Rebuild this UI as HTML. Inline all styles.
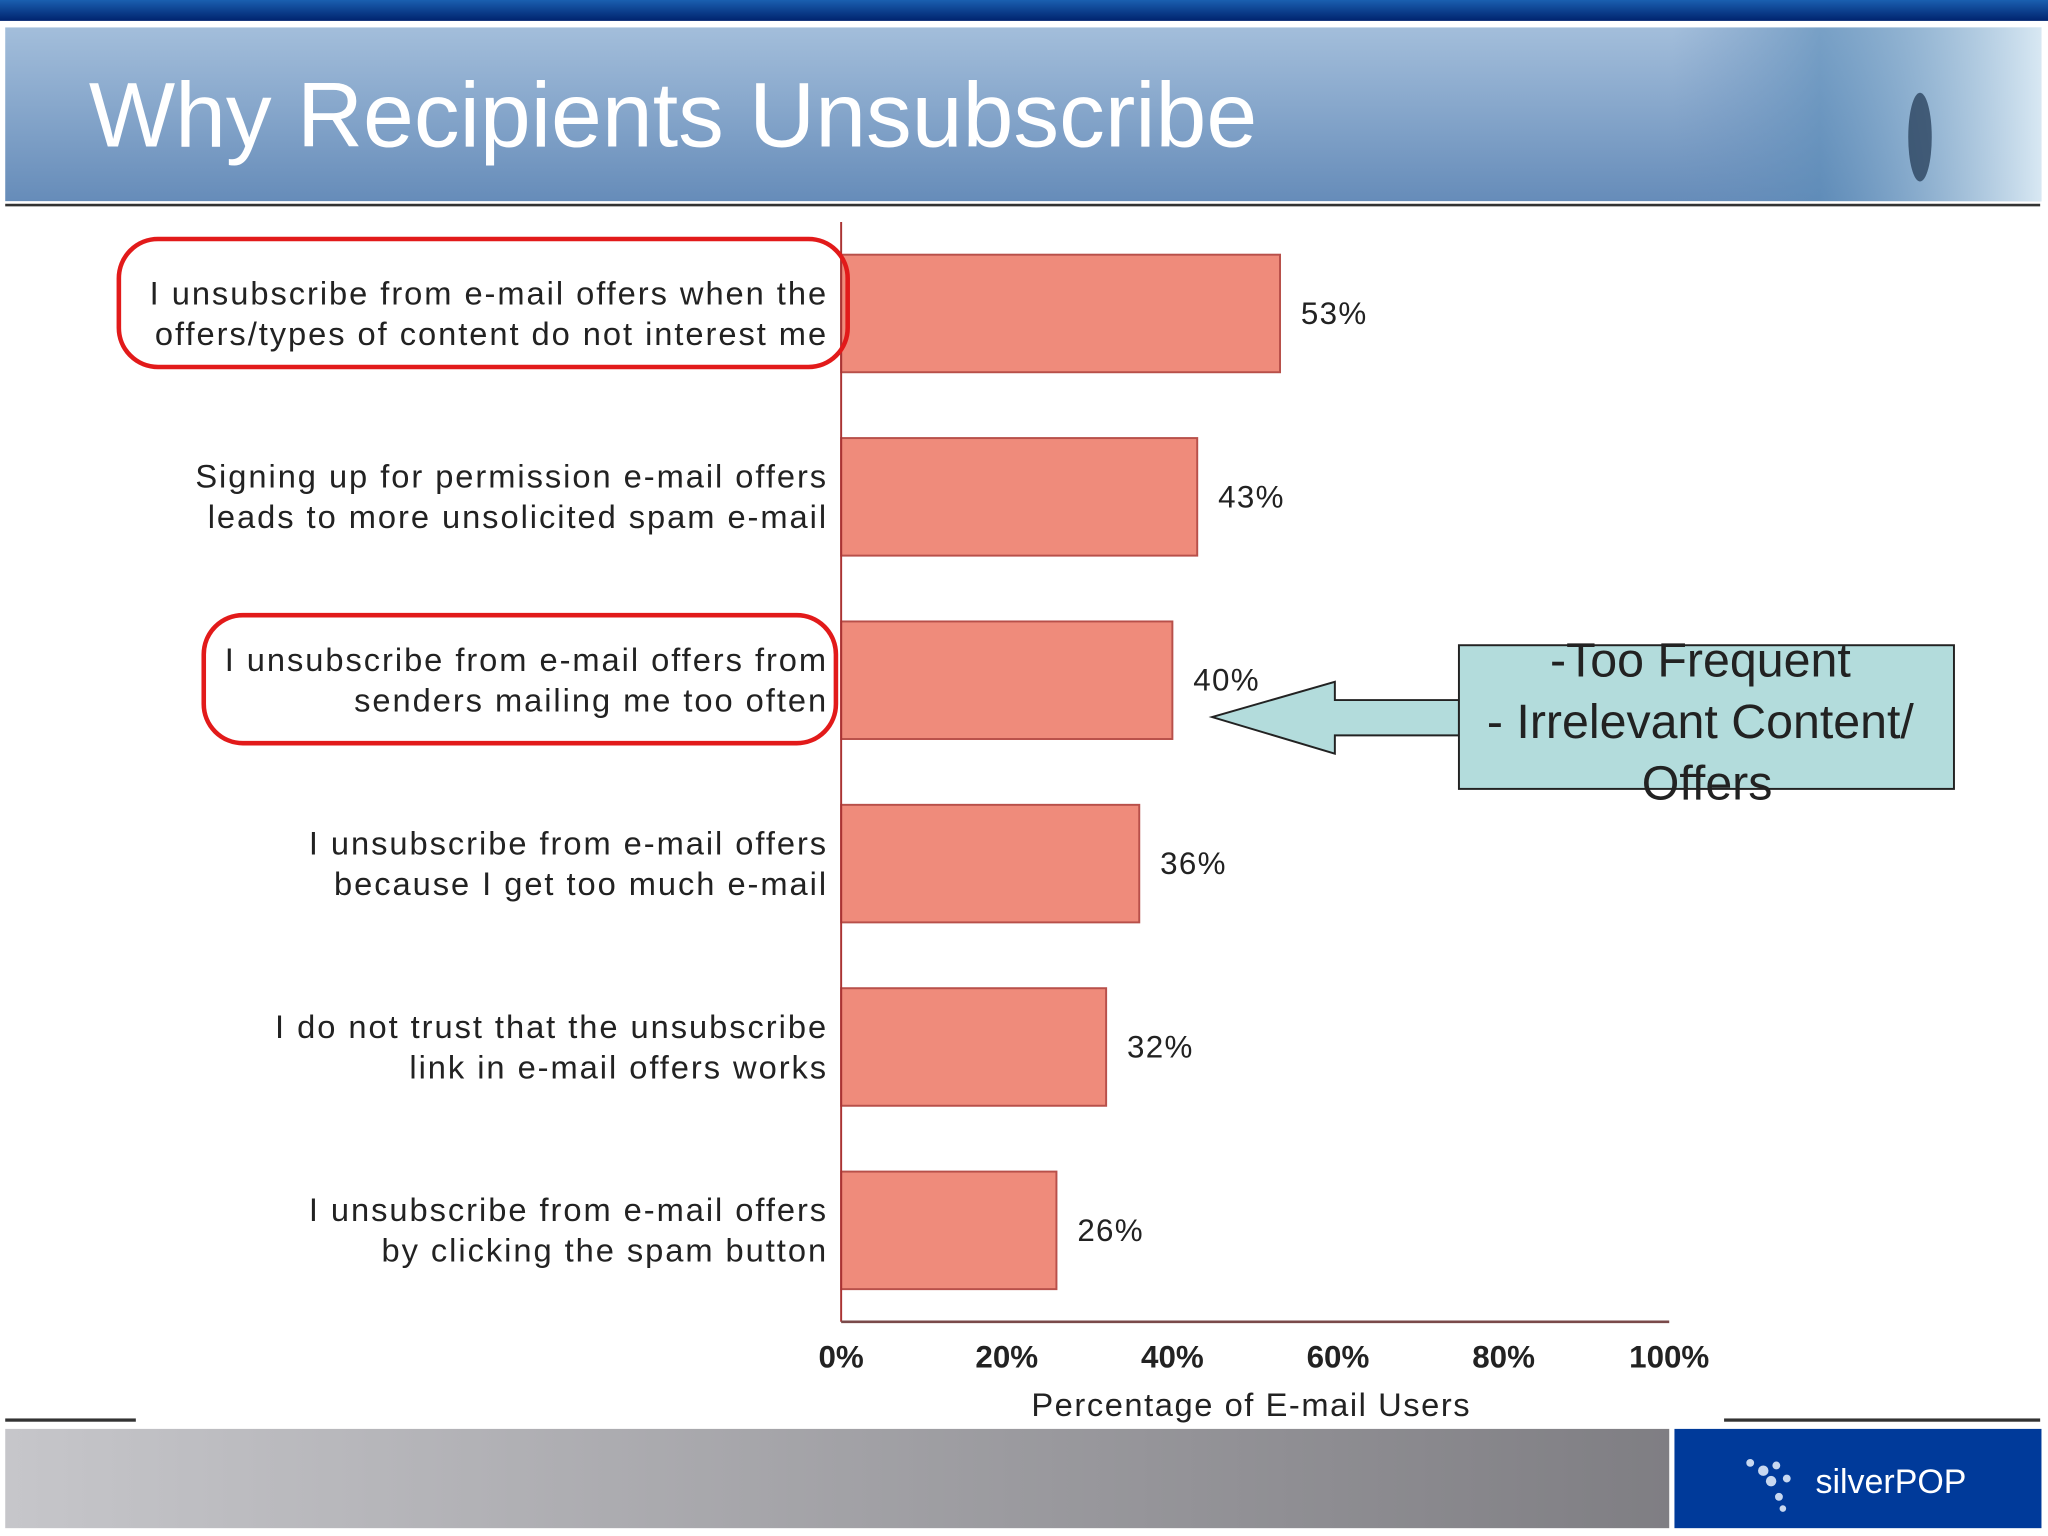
<!DOCTYPE html>
<html><head><meta charset="utf-8"><style>
html,body{margin:0;padding:0;background:#fff;}
svg{display:block;font-family:"Liberation Sans",sans-serif;}
</style></head><body>
<svg id="chart" width="2048" height="1536" viewBox="0 0 1568 1176" xmlns="http://www.w3.org/2000/svg">
<defs>
<linearGradient id="topbar" x1="0" y1="0" x2="0" y2="1"><stop offset="0" stop-color="#1a5fb0"/><stop offset="1" stop-color="#00236e"/></linearGradient>
<linearGradient id="hdr" x1="0" y1="0" x2="0" y2="1"><stop offset="0" stop-color="#a3bedb"/><stop offset="1" stop-color="#668cb9"/></linearGradient>
<linearGradient id="hdrR" x1="0" y1="0" x2="1" y2="0"><stop offset="0" stop-color="#6a90bb" stop-opacity="0"/><stop offset="0.4" stop-color="#5b8cb8" stop-opacity="0.6"/><stop offset="1" stop-color="#d8e8f3"/></linearGradient>
<linearGradient id="foot" x1="0" y1="0" x2="1" y2="0"><stop offset="0" stop-color="#c6c6ca"/><stop offset="1" stop-color="#7f7e83"/></linearGradient>
</defs>
<rect x="0" y="0" width="1568" height="16" fill="url(#topbar)"/>
<rect x="4" y="21" width="1559" height="133" fill="url(#hdr)"/>
<rect x="1280" y="21" width="283" height="133" fill="url(#hdrR)"/>
<ellipse cx="1470" cy="105" rx="9" ry="34" fill="#1e3550" opacity="0.7"/>
<rect x="4" y="156" width="1558" height="2" fill="#333"/>
<text x="68" y="112" font-size="70" fill="#fff">Why Recipients Unsubscribe</text>

<g id="plot"></g>

<rect x="91" y="183" width="558" height="98" rx="30" fill="none" stroke="#e21a1a" stroke-width="3.5"/>
<rect x="156" y="471" width="484" height="98" rx="30" fill="none" stroke="#e21a1a" stroke-width="3.5"/>

<polygon points="928,549 1022,522 1022,536 1117,536 1117,563 1022,563 1022,577" fill="#b3dcdc" stroke="#222" stroke-width="1.5"/>
<rect x="1117" y="494" width="379" height="110" fill="#b3dcdc" stroke="#222" stroke-width="1.5"/>
<text font-size="37" fill="#222" text-anchor="middle">
<tspan x="1307" y="518">-Too Frequent</tspan>
<tspan x="1307" y="565">- Irrelevant Content/</tspan>
<tspan x="1307" y="612">Offers</tspan>
</text>

<rect x="4" y="1086" width="100" height="2.5" fill="#333"/>
<rect x="1320" y="1086" width="242" height="2.5" fill="#333"/>
<rect x="4" y="1094" width="1274" height="76" fill="url(#foot)"/>
<rect x="1282" y="1094" width="281" height="76" fill="#003a9a"/>
<g fill="#c8d8f0">
<circle cx="1340" cy="1120" r="3"/><circle cx="1350" cy="1126" r="4"/><circle cx="1360" cy="1122" r="3"/><circle cx="1356" cy="1134" r="4"/><circle cx="1368" cy="1132" r="3"/><circle cx="1362" cy="1146" r="3"/><circle cx="1365" cy="1155" r="2.5"/>
</g>
<text x="1390" y="1143" font-size="26" fill="#fff">silverPOP</text>

<script>
const categories = [
 ["I unsubscribe from e-mail offers when the","offers/types of content do not interest me"],
 ["Signing up for permission e-mail offers","leads to more unsolicited spam e-mail"],
 ["I unsubscribe from e-mail offers from","senders mailing me too often"],
 ["I unsubscribe from e-mail offers","because I get too much e-mail"],
 ["I do not trust that the unsubscribe","link in e-mail offers works"],
 ["I unsubscribe from e-mail offers","by clicking the spam button"]
];
const values = [53, 43, 40, 36, 32, 26];
const ticks = [0, 20, 40, 60, 80, 100];
const tickLabels = ["0%","20%","40%","60%","80%","100%"];

const NS = "http://www.w3.org/2000/svg";
const g = document.getElementById("plot");
const x0 = 644, x1 = 1278, yTop = 170, yBot = 1012, bandTop = 195, pitch = 140.4, barH = 90;
const xs = v => x0 + (v/100)*(x1-x0);
const yb = i => bandTop + i*pitch;
function mk(tag, attrs){ const e=document.createElementNS(NS,tag); for(const k in attrs) e.setAttribute(k,attrs[k]); g.appendChild(e); return e; }

values.forEach((v,i)=>{
  const r = mk("rect",{x:x0,y:yb(i),width:xs(v)-x0,height:barH,fill:"#ef8b7b",stroke:"#b8504a","stroke-width":1.5});
  
  
  const t = mk("text",{x:xs(v)+16,y:yb(i)+barH/2+8,"font-size":24,fill:"#222","letter-spacing":1});
  t.textContent = v + "%";
  
  
  categories[i].forEach((line,j)=>{
    const c = mk("text",{x:634,y:yb(i)+38+j*31,"font-size":25,fill:"#222","text-anchor":"end","letter-spacing":1.5});
    c.textContent = line;
    
    
  });
});
const ya = mk("line",{x1:x0,y1:yTop,x2:x0,y2:yBot,stroke:"#a33","stroke-width":1.5});


const xa = mk("line",{x1:x0,y1:yBot,x2:x1,y2:yBot,stroke:"#7a4a4a","stroke-width":2});


ticks.forEach((tv,i)=>{
  const t = mk("text",{x:xs(tv),y:1047,"font-size":24,"font-weight":"bold",fill:"#222","text-anchor":"middle"});
  t.textContent = tickLabels[i];
  
  
});
const xt = mk("text",{x:958,y:1084,"font-size":25,fill:"#222","text-anchor":"middle","letter-spacing":1.2});
xt.textContent = "Percentage of E-mail Users";


</script>
</svg>
</body></html>
